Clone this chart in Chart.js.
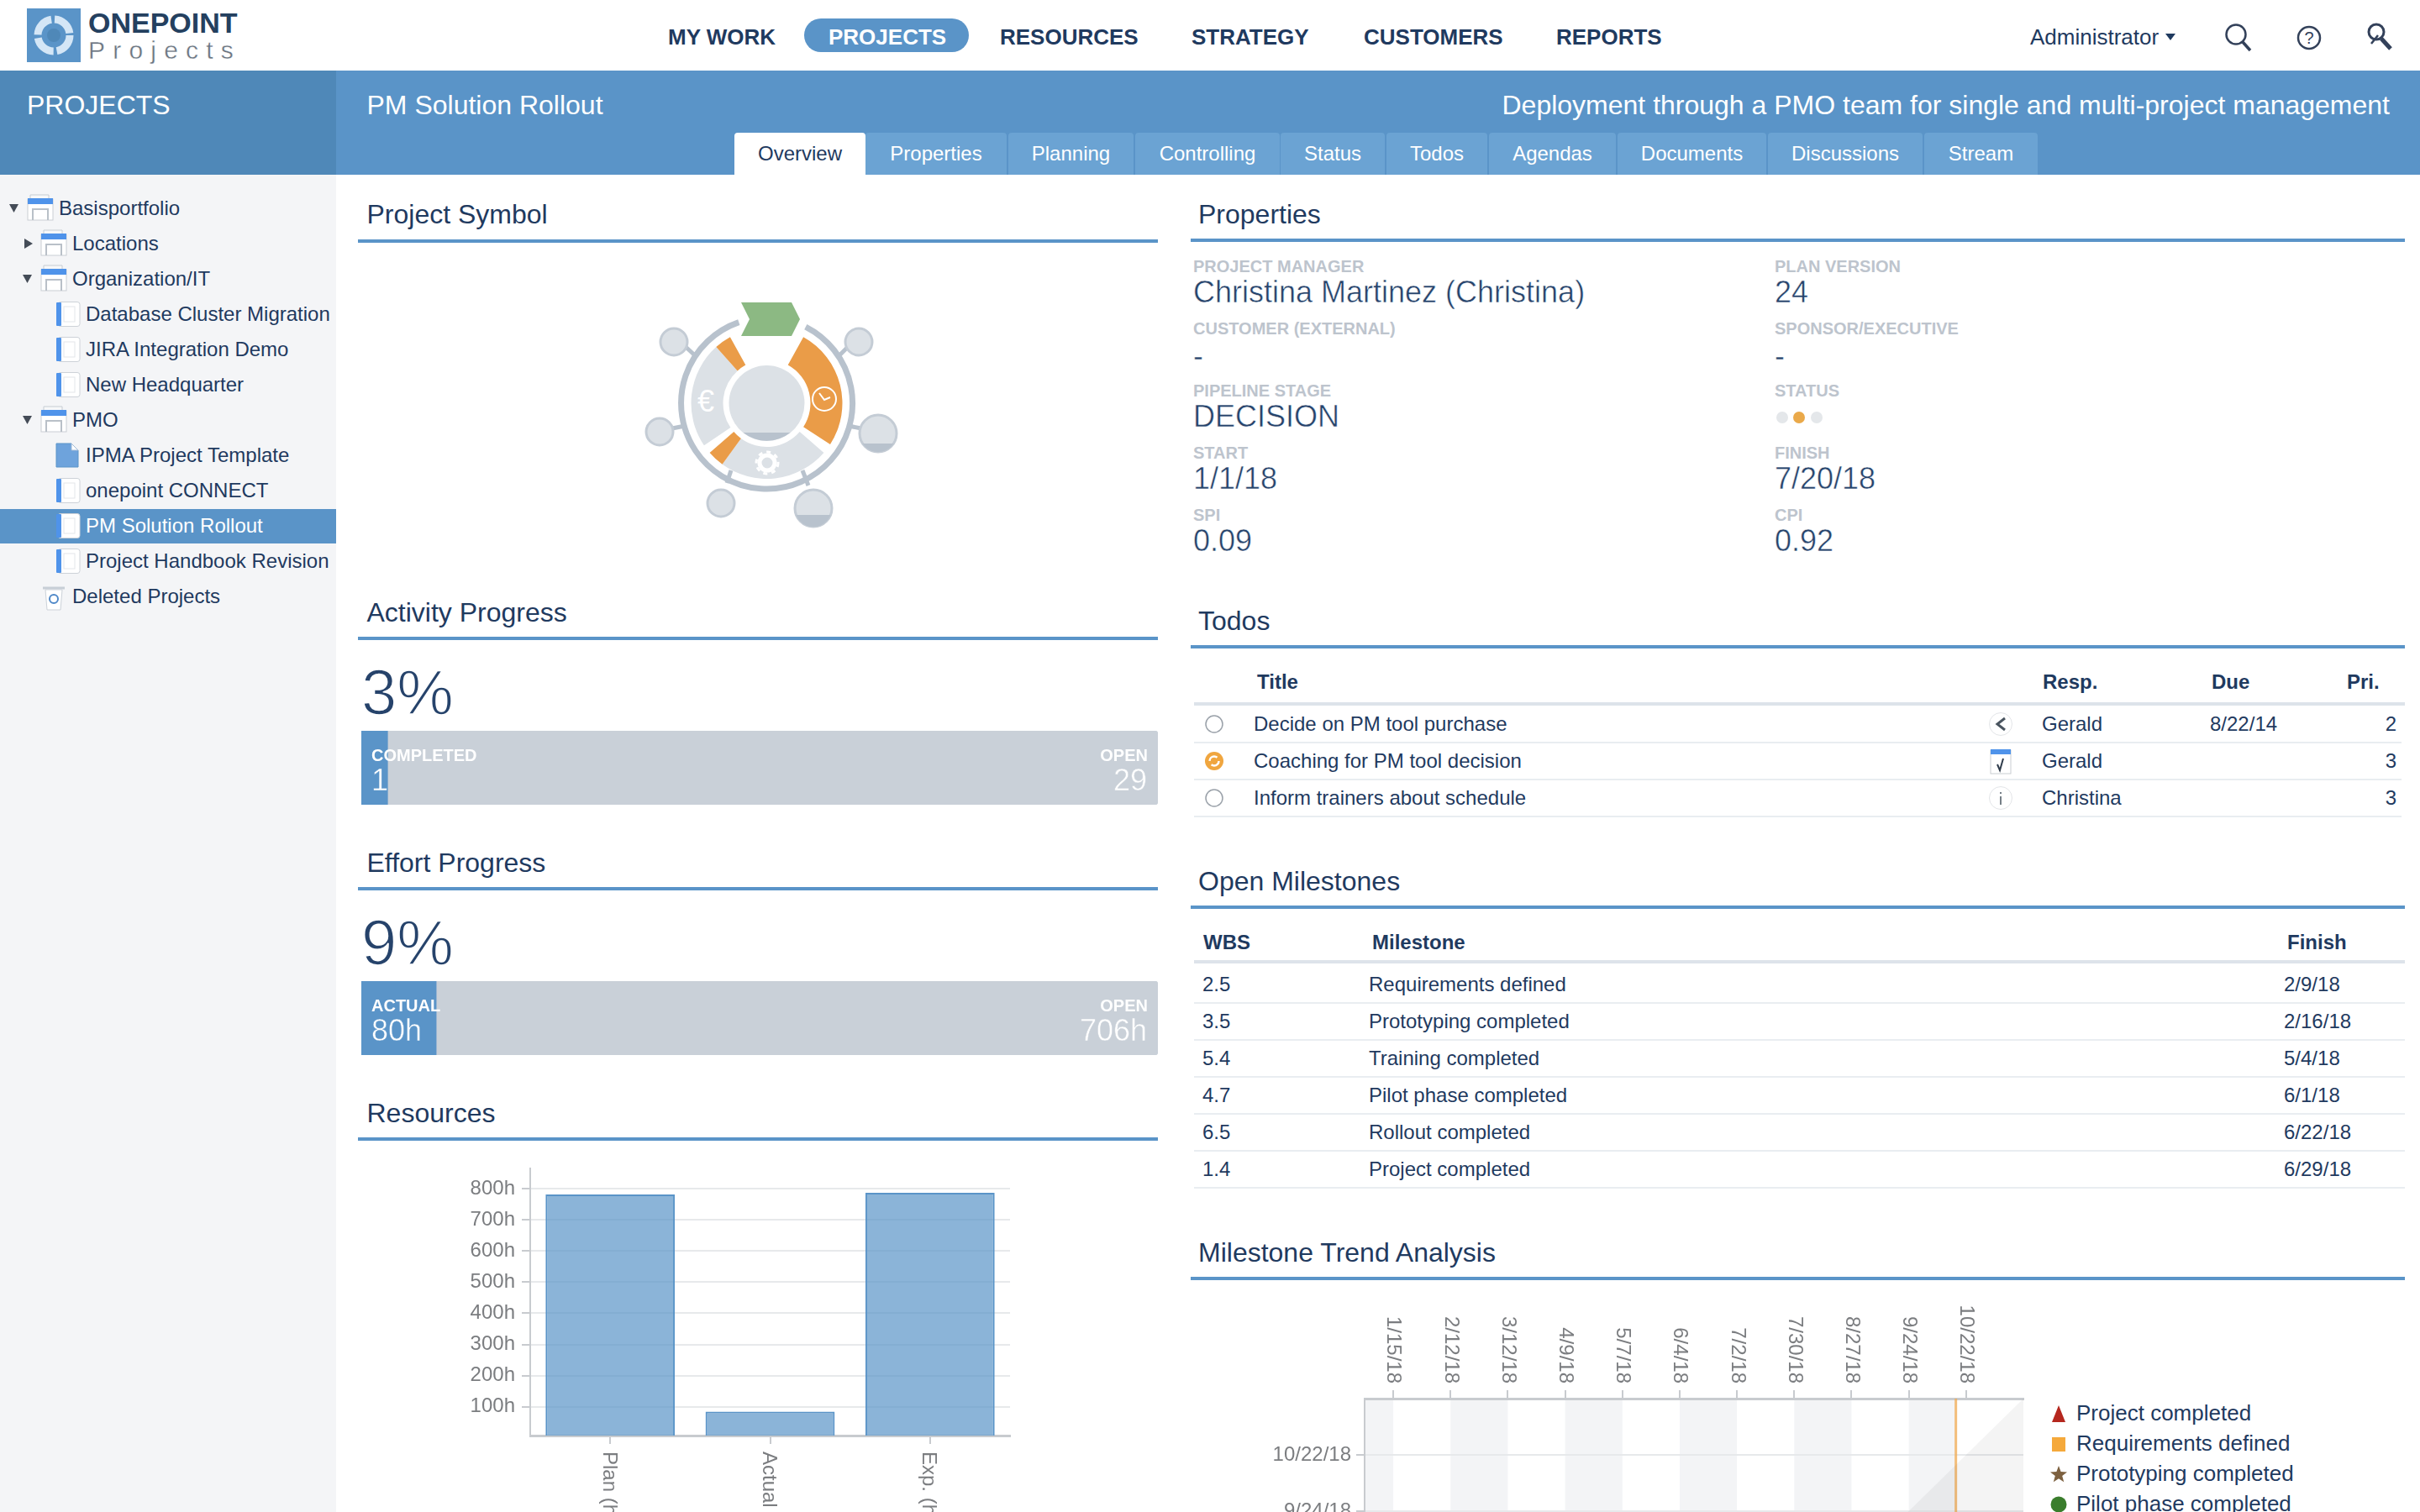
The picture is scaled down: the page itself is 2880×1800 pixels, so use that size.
<!DOCTYPE html>
<html>
<head>
<meta charset="utf-8">
<title>PM Solution Rollout</title>
<script src="https://cdn.jsdelivr.net/npm/chart.js@4"></script>
<style>
html, body { margin: 0; padding: 0; overflow: hidden; background: #fff; }
#page { position: relative; width: 2880px; height: 1800px; overflow: hidden; font-family: "Liberation Sans", Arial, sans-serif; color: #1f3a5f; }
#page div, #page canvas, #page svg { position: absolute; }
.t { white-space: nowrap; transform: translateY(-50%); line-height: 1.2; }
.title { font-size: 32px; }
.lbl { font-size: 20px; font-weight: bold; color: #bdc4cd; }
.val { font-size: 36px; color: #26436b; -webkit-text-stroke: 0.5px #fff; }
.big { font-size: 76px; color: #26436b; -webkit-text-stroke: 1.6px #fff; }
.cell { font-size: 24px; }
.head { font-size: 24px; font-weight: bold; }
.tab { border-radius: 4px 4px 0 0; background: #6ba3d3; color: #fff; font-size: 24px; text-align: center; top: 158px; height: 50px; line-height: 49px; }
</style>
</head>
<body>
<div id="page"></div>
<script>
/* chart data */
const resourceCats = ["Plan (h)", "Actual (h)", "Exp. (h)"];
const resourceHours = [781, 85, 786];
const resourceTicks = [100, 200, 300, 400, 500, 600, 700, 800];

const activityDone = [3.3];
const activityOpen = [96.7];
const effortDone = [9.4];
const effortOpen = [90.6];

const trendDates = ["1/15/18", "2/12/18", "3/12/18", "4/9/18", "5/7/18", "6/4/18", "7/2/18", "7/30/18", "8/27/18", "9/24/18", "10/22/18"];
const trendStart = "1/1/18";
const trendEnd = "11/19/18";
const trendNow = "10/17/18";
const bandFrom = ["1/1/18", "2/12/18", "4/9/18", "6/4/18", "7/30/18", "9/24/18"];
const bandTo = ["1/15/18", "3/12/18", "5/7/18", "7/2/18", "8/27/18", "10/17/18"];
const legendNames = ["Project completed", "Requirements defined", "Prototyping completed", "Pilot phase completed"];
const legendColors = ["#b5271e", "#f5a93b", "#7d6140", "#3a7d2c"];

/* page text */
const navItems = [["MY WORK", 795], ["RESOURCES", 1190], ["STRATEGY", 1418], ["CUSTOMERS", 1623], ["REPORTS", 1852]];
const tabNames = ["Properties", "Planning", "Controlling", "Status", "Todos", "Agendas", "Documents", "Discussions", "Stream"];
const tabEdges = [[1030, 1198], [1200, 1349], [1351, 1523], [1524, 1648], [1650, 1770], [1772, 1923], [1925, 2102], [2104, 2288], [2290, 2425]];
const treeRows = [
  ["Basisportfolio", 0, "folder", "open"], ["Locations", 1, "folder", "closed"], ["Organization/IT", 1, "folder", "open"],
  ["Database Cluster Migration", 2, "doc"], ["JIRA Integration Demo", 2, "doc"], ["New Headquarter", 2, "doc"],
  ["PMO", 1, "folder", "open"], ["IPMA Project Template", 2, "tpl"], ["onepoint CONNECT", 2, "doc"],
  ["PM Solution Rollout", 2, "doc"], ["Project Handbook Revision", 2, "doc"], ["Deleted Projects", 1, "trash"]
];
const props = [
  ["PROJECT MANAGER", "Christina Martinez (Christina)", 1420, 317, 348], ["PLAN VERSION", "24", 2112, 317, 348],
  ["CUSTOMER (EXTERNAL)", "-", 1420, 391, 424], ["SPONSOR/EXECUTIVE", "-", 2112, 391, 424],
  ["PIPELINE STAGE", "DECISION", 1420, 465, 496], ["STATUS", "", 2112, 465, 496],
  ["START", "1/1/18", 1420, 539, 570], ["FINISH", "7/20/18", 2112, 539, 570],
  ["SPI", "0.09", 1420, 613, 644], ["CPI", "0.92", 2112, 613, 644]
];
const todoRows = [
  ["Decide on PM tool purchase", "Gerald", "8/22/14", "2"],
  ["Coaching for PM tool decision", "Gerald", "", "3"],
  ["Inform trainers about schedule", "Christina", "", "3"]
];
const milestoneRows = [
  ["2.5", "Requirements defined", "2/9/18"], ["3.5", "Prototyping completed", "2/16/18"],
  ["5.4", "Training completed", "5/4/18"], ["4.7", "Pilot phase completed", "6/1/18"],
  ["6.5", "Rollout completed", "6/22/18"], ["1.4", "Project completed", "6/29/18"]
];

const page = document.getElementById("page");

function put(x, y, text, cls, style) {
  const d = document.createElement("div");
  d.className = "t " + (cls || "");
  d.textContent = text;
  d.style.left = x + "px";
  d.style.top = y + "px";
  if (style) d.style.cssText += style;
  page.appendChild(d);
  return d;
}
// same as put but the x is the right edge of the text
function putR(x, y, text, cls, style) {
  return put(0, y, text, cls, "left:auto;right:" + (2880 - x) + "px;" + (style || ""));
}
function box(x, y, w, h, color, extra) {
  const d = document.createElement("div");
  d.style.cssText = `left:${x}px;top:${y}px;width:${w}px;height:${h}px;background:${color};` + (extra || "");
  page.appendChild(d);
  return d;
}
function svg(x, y, w, h, inner) {
  const s = document.createElementNS("http://www.w3.org/2000/svg", "svg");
  s.setAttribute("width", w);
  s.setAttribute("height", h);
  s.setAttribute("viewBox", `0 0 ${w} ${h}`);
  s.style.left = x + "px";
  s.style.top = y + "px";
  s.innerHTML = inner;
  page.appendChild(s);
  return s;
}

/* header */
box(0, 84, 2880, 124, "#5a94c8");
box(0, 84, 400, 124, "#4f88b8");
box(0, 208, 400, 1592, "#f4f5f7");
box(32, 10, 64, 64, "#5a94c8");
svg(32, 10, 64, 64, `<circle cx="32" cy="32" r="19" fill="none" stroke="#d4e6f6" stroke-width="9" stroke-dasharray="26 4"/><circle cx="32" cy="32" r="8" fill="#4f88b8"/>`);
put(105, 27, "ONEPOINT", "", "font-size:34px;font-weight:bold;color:#24405f;");
put(105, 60, "Projects", "", "font-size:30px;color:#6a7480;letter-spacing:9.2px;-webkit-text-stroke:0.4px #fff;");

box(957, 22, 196, 40, "#5a94c8", "border-radius:20px;");
put(986, 44.5, "PROJECTS", "", "font-size:26px;font-weight:bold;color:#fff;");
navItems.forEach(n => put(n[1], 44.5, n[0], "", "font-size:26px;font-weight:bold;"));
put(2416, 44.5, "Administrator", "", "font-size:26px;");
svg(2576, 39, 14, 10, `<path d="M1 1h12L7 9z" fill="#1f3a5f"/>`);
svg(2646, 26, 36, 38, `<circle cx="15" cy="15" r="11.5" fill="none" stroke="#33415a" stroke-width="2.5"/><path d="M23 24l9 10" stroke="#33415a" stroke-width="3.5"/>`);
svg(2731, 28, 36, 34, `<circle cx="17" cy="17" r="13" fill="none" stroke="#33415a" stroke-width="2.5"/><text x="17" y="24" font-size="20" text-anchor="middle" fill="#33415a" font-family="Liberation Sans">?</text>`);
svg(2814, 26, 36, 38, `<circle cx="14" cy="12" r="9" fill="none" stroke="#33415a" stroke-width="3"/><path d="M20 20l11 12" stroke="#33415a" stroke-width="5"/><path d="M8 26l8-10" stroke="#33415a" stroke-width="2.5"/>`);

put(32, 124.5, "PROJECTS", "", "font-size:32px;color:#fff;");
put(436.5, 124.5, "PM Solution Rollout", "", "font-size:32px;color:#fff;");
putR(2844, 124.5, "Deployment through a PMO team for single and multi-project management", "", "font-size:32px;color:#fff;");

const overview = box(874, 158, 156, 50, "#fff", "border-radius:4px 4px 0 0;font-size:24px;text-align:center;line-height:49px;");
overview.textContent = "Overview";
tabNames.forEach((n, i) => {
  const d = box(tabEdges[i][0], 158, tabEdges[i][1] - tabEdges[i][0], 50, "#6ba3d3", "");
  d.className = "tab";
  d.textContent = n;
});

/* tree */
const indentText = [70, 86, 102];
function folderIcon(x, y) {
  svg(x, y - 16, 32, 32, `<path d="M4 1h22v6H4z" fill="#f7f8f9" stroke="#c6ccd3"/><rect x="1" y="6" width="30" height="25" fill="#fff" stroke="#c9ced4"/><rect x="1" y="5" width="30" height="7" fill="#4f93ea"/><path d="M7 31V18h18v13" fill="none" stroke="#b9c0c8" stroke-width="2"/>`);
}
function docIcon(x, y) {
  svg(x, y - 15, 30, 30, `<rect x="3" y="0.5" width="26" height="29" rx="3" fill="#fff" stroke="#cdd2d8"/><rect x="1" y="1" width="6" height="28" rx="1" fill="#4f93ea"/><rect x="10" y="6" width="13" height="18" fill="none" stroke="#e3e6ea"/>`);
}
treeRows.forEach((r, i) => {
  const y = 247.6 + i * 42;
  const selected = r[0] === "PM Solution Rollout";
  if (selected) box(0, 606, 400, 41, "#5a94c8");
  const x = indentText[r[1]];
  if (r[2] === "folder") folderIcon(x - 38, y - 1);
  if (r[2] === "doc") docIcon(x - 36, y);
  if (r[2] === "tpl") svg(x - 36, y - 15, 28, 30, `<path d="M1 1h18l8 8v20H1z" fill="#6ea3dc" stroke="#5a94c8"/><path d="M19 1v8h8z" fill="#fff" stroke="#9fb9d6"/>`);
  if (r[2] === "trash") svg(x - 36, y - 16, 28, 34, `<path d="M1 6h26" stroke="#c7ced6" stroke-width="3"/><path d="M4 8l2 24h16l2-24z" fill="#fff" stroke="#ccd2d9"/><circle cx="14" cy="19" r="5" fill="#fff" stroke="#4f88c8" stroke-width="2"/>`);
  if (r[3] === "open") svg(x - 60, y - 6, 14, 12, `<path d="M1 1h11L6.5 11z" fill="#444c57"/>`);
  if (r[3] === "closed") svg(x - 58, y - 7, 12, 14, `<path d="M1 1l10 6-10 6z" fill="#444c57"/>`);
  put(x, y, r[0], "", "font-size:24px;" + (selected ? "color:#fff;" : ""));
});

/* section titles */
[["Project Symbol", 436.5, 255, 426, 285, 952], ["Activity Progress", 436.5, 728.5, 426, 758, 952], ["Effort Progress", 436.5, 1027, 426, 1056, 952], ["Resources", 436.5, 1325, 426, 1354, 952],
 ["Properties", 1426, 255, 1417, 284, 1445], ["Todos", 1426, 739, 1417, 768, 1445], ["Open Milestones", 1426, 1049, 1417, 1078, 1445], ["Milestone Trend Analysis", 1426, 1491, 1417, 1520, 1445]
].forEach(s => {
  put(s[1], s[2], s[0], "title");
  box(s[3], s[4], s[5], 4, "#5a94c8");
});

/* project symbol, drawn as an icon */
const cx = 232.5, cy = 160;
function pol(r, a) {
  const t = (a - 90) * Math.PI / 180;
  return (cx + r * Math.cos(t)).toFixed(1) + " " + (cy + r * Math.sin(t)).toFixed(1);
}
function sector(r0, r1, a0, a1, fill) {
  const big = a1 - a0 > 180 ? 1 : 0;
  return `<path d="M${pol(r1, a0)}A${r1} ${r1} 0 ${big} 1 ${pol(r1, a1)}L${pol(r0, a1)}A${r0} ${r0} 0 ${big} 0 ${pol(r0, a0)}Z" fill="${fill}"/>`;
}
function satellite(x, y, r, h) {
  let s = `<circle cx="${x}" cy="${y}" r="${r}" fill="#dce1e6" stroke="#c4ccd5" stroke-width="3"/>`;
  if (h) {
    const w = Math.sqrt(r * r - h * h).toFixed(1);
    s += `<path d="M${x - w} ${y + h}A${r} ${r} 0 0 0 ${x + +w} ${y + h}Z" fill="#b8c2cd"/>`;
  }
  return s;
}
const stalk = (x1, y1, x2, y2) => `<path d="M${x1} ${y1}L${x2} ${y2}" stroke="#b8c2cd" stroke-width="5"/>`;
svg(680, 320, 460, 340,
  stalk(135, 92, 148, 104) + stalk(330, 92, 318, 104) + stalk(120, 190, 135, 187) + stalk(345, 190, 330, 187) + stalk(185, 255, 190, 240) + stalk(282, 258, 275, 240) +
  `<path d="M${pol(102, 27)}A102 102 0 1 1 ${pol(102, 341)}" fill="none" stroke="#b8c2cd" stroke-width="7"/>` +
  sector(52, 90, 29, 123, "#ea9c48") + sector(52, 90, 131, 216, "#dce1e6") + sector(52, 90, 216, 229, "#ea9c48") +
  sector(52, 90, 236, 318, "#dce1e6") + sector(52, 90, 318, 331, "#ea9c48") +
  `<circle cx="${cx}" cy="${cy}" r="45" fill="#dce1e6"/><path d="M${cx - 28} ${cy + 35}A45 45 0 0 0 ${cx + 28} ${cy + 35}Z" fill="#b8c2cd"/>` +
  `<path d="M202 40h60l10 20-10 20h-60l10-20z" fill="#8cb983"/>` +
  satellite(122, 87, 16) + satellite(342, 87, 16) + satellite(105, 194, 16) + satellite(365, 196, 22, 12) + satellite(178, 279, 16) + satellite(288, 285, 22, 8) +
  `<text x="160" y="170" font-size="36" fill="#fff" text-anchor="middle" font-family="Liberation Sans">€</text>` +
  `<circle cx="301" cy="155" r="14" fill="none" stroke="#fff" stroke-width="2"/><path d="M295 148l6 8 7-3" fill="none" stroke="#fff" stroke-width="2"/>` +
  `<circle cx="233" cy="231" r="9" fill="none" stroke="#fff" stroke-width="5"/><circle cx="233" cy="231" r="13" fill="none" stroke="#fff" stroke-width="3" stroke-dasharray="5 5"/>`
);

/* progress */
put(430, 824, "3%", "big");
put(430, 1122, "9%", "big");

/* properties */
props.forEach(p => {
  put(p[2], p[3], p[0], "lbl");
  if (p[1]) put(p[2], p[4], p[1], "val");
});
[[2121, "#e4e7ea"], [2141, "#eaa94a"], [2162, "#e4e7ea"]].forEach(d => box(d[0] - 7, 490, 14, 14, d[1], "border-radius:50%;"));

/* todos */
put(1496, 812, "Title", "head");
put(2431, 812, "Resp.", "head");
put(2632, 812, "Due", "head");
put(2793, 812, "Pri.", "head");
box(1421, 836, 1441, 4, "#dde3ea");
todoRows.forEach((r, i) => {
  const y = 862 + i * 44;
  put(1492, y, r[0], "cell");
  put(2430, y, r[1], "cell");
  put(2630, y, r[2], "cell");
  putR(2852, y, r[3], "cell");
  box(1421, y + 21, 1437, 2, "#e9edf1");
});
svg(1433, 850, 24, 24, `<circle cx="12" cy="12" r="10" fill="#fff" stroke="#9aa1a9" stroke-width="1.5"/>`);
svg(1433, 894, 24, 24, `<circle cx="12" cy="12" r="11" fill="#f0a63f"/><circle cx="12" cy="12" r="5.5" fill="none" stroke="#fff" stroke-width="2.5" stroke-dasharray="12 5"/>`);
svg(1433, 938, 24, 24, `<circle cx="12" cy="12" r="10" fill="#fff" stroke="#9aa1a9" stroke-width="1.5"/>`);
svg(2366, 847, 30, 30, `<circle cx="15" cy="15" r="13.5" fill="#fff" stroke="#e3e5e8"/><path d="M20 8l-9 7 9 7" fill="none" stroke="#4a5560" stroke-width="3"/>`);
svg(2368, 892, 26, 30, `<rect x="1" y="1" width="24" height="28" fill="#fff" stroke="#c9cdd2"/><rect x="1" y="0" width="24" height="6" fill="#4f93ea"/><path d="M9 18l3 7 4-14" fill="none" stroke="#2f3c4b" stroke-width="2"/>`);
svg(2366, 935, 30, 30, `<circle cx="15" cy="15" r="13.5" fill="#fff" stroke="#e3e5e8"/><path d="M15 13v10M15 8v2" stroke="#4a5560" stroke-width="1.5"/>`);

/* milestones */
put(1432, 1121.5, "WBS", "head");
put(1633, 1121.5, "Milestone", "head");
put(2722, 1121.5, "Finish", "head");
box(1421, 1143, 1441, 4, "#dde3ea");
milestoneRows.forEach((r, i) => {
  const y = 1171.5 + i * 44;
  put(1431, y, r[0], "cell");
  put(1629, y, r[1], "cell");
  put(2718, y, r[2], "cell");
  box(1421, y + 21, 1441, 2, "#e9edf1");
});

/* charts */
Chart.defaults.font.family = '"Liberation Sans", Arial, sans-serif';
Chart.defaults.animation = false;

const tickGray = "#7b7d80";
const lineGray = "#c8cbcf";
const gridGray = "#e7e9eb";

function addCanvas(x, y, w, h) {
  const c = document.createElement("canvas");
  c.width = w;
  c.height = h;
  c.style.left = x + "px";
  c.style.top = y + "px";
  page.appendChild(c);
  return c;
}

// Chart.js only rotates tick labels counter clockwise, these read top to bottom
const clockwiseTicks = {
  id: "clockwiseTicks",
  afterDraw(chart) {
    const s = chart.scales.x, ctx = chart.ctx;
    const onTop = s.position === "top";
    ctx.save();
    ctx.font = '24px "Liberation Sans"';
    ctx.fillStyle = tickGray;
    s.ticks.forEach((t, i) => {
      ctx.save();
      ctx.translate(s.getPixelForTick(i) - (onTop ? 0 : 2), onTop ? s.bottom - 18 : s.top + 19);
      ctx.rotate(Math.PI / 2);
      ctx.textAlign = onTop ? "right" : "left";
      ctx.textBaseline = "middle";
      ctx.fillText(t.label, 0, 0);
      ctx.restore();
    });
    ctx.restore();
  }
};

function progressBar(x, y, done, open) {
  return new Chart(addCanvas(x, y, 948, 88), {
    type: "bar",
    data: {
      labels: [""],
      datasets: [
        { data: done, backgroundColor: "#5a94c8", barPercentage: 1, categoryPercentage: 1 },
        { data: open, backgroundColor: "#c9d0d8", barPercentage: 1, categoryPercentage: 1, borderRadius: { topRight: 4, bottomRight: 4 } }
      ]
    },
    options: {
      indexAxis: "y",
      responsive: false,
      plugins: { legend: { display: false }, tooltip: { enabled: false } },
      scales: {
        x: { display: false, stacked: true, min: 0, max: 100 },
        y: { display: false, stacked: true }
      }
    }
  });
}
progressBar(430, 870, activityDone, activityOpen);
progressBar(430, 1168, effortDone, effortOpen);

const overBlue = "color:#fff;-webkit-text-stroke:0.5px #5a94c8;";
const overGray = "color:#fff;-webkit-text-stroke:0.5px #c9d0d8;";
put(442, 899, "COMPLETED", "lbl", "color:#fff;");
put(442, 929, "1", "val", overBlue);
putR(1366, 899, "OPEN", "lbl", "color:#fff;");
putR(1365, 929, "29", "val", overGray);
put(442, 1197, "ACTUAL", "lbl", "color:#fff;");
put(442, 1227, "80h", "val", overBlue);
putR(1366, 1197, "OPEN", "lbl", "color:#fff;");
putR(1365, 1227, "706h", "val", overGray);

new Chart(addCanvas(420, 1390, 786, 439), {
  type: "bar",
  data: {
    labels: resourceCats,
    datasets: [{
      data: resourceHours,
      backgroundColor: "rgba(90,148,200,0.7)",
      borderColor: "#5a94c8",
      borderWidth: 2,
      categoryPercentage: 0.808,
      barPercentage: 1
    }]
  },
  options: {
    responsive: false,
    layout: { padding: { right: 4 } },
    plugins: { legend: { display: false }, tooltip: { enabled: false } },
    scales: {
      x: {
        ticks: { display: false, autoSkip: false },
        grid: { drawOnChartArea: false, offset: false, tickLength: 10, color: lineGray, lineWidth: 2 },
        border: { color: lineGray, width: 3 },
        afterFit: s => { s.height = 120; }
      },
      y: {
        min: 8,
        max: 867,
        afterBuildTicks: s => { s.ticks = resourceTicks.map(v => ({ value: v })); },
        ticks: { color: tickGray, font: { size: 24 }, padding: 8, callback: v => v + "h" },
        grid: { color: gridGray, lineWidth: 2, tickLength: 10, tickColor: lineGray },
        border: { color: lineGray, width: 2 },
        afterFit: s => { s.width = 211; s.paddingTop = 0; s.paddingBottom = 0; }
      }
    }
  },
  plugins: [clockwiseTicks]
});

/* milestone trend */
const toDay = s => {
  const p = s.split("/");
  return Date.UTC(2000 + +p[2], +p[0] - 1, +p[1]) / 86400000;
};
const dayLabel = d => {
  const x = new Date(d * 86400000);
  return (x.getUTCMonth() + 1) + "/" + x.getUTCDate() + "/" + (x.getUTCFullYear() - 2000);
};
const dayTicks = () => trendDates.map(d => ({ value: toDay(d) }));

const bands = {
  id: "bands",
  beforeDraw(chart) {
    const s = chart.scales.x, a = chart.chartArea, ctx = chart.ctx;
    ctx.save();
    ctx.fillStyle = "#f3f4f6";
    bandFrom.forEach((d, i) => {
      const x0 = s.getPixelForValue(toDay(d));
      const x1 = s.getPixelForValue(toDay(bandTo[i]));
      ctx.fillRect(x0, a.top, x1 - x0, a.bottom - a.top);
    });
    ctx.restore();
  }
};

const dayMin = toDay(trendStart), dayMax = toDay(trendEnd), dayNow = toDay(trendNow);

new Chart(addCanvas(1400, 1545, 1012, 895), {
  type: "line",
  data: {
    datasets: [
      {
        data: [{ x: dayMin, y: dayMin }, { x: dayMax, y: dayMax }],
        fill: "start",
        backgroundColor: "rgba(60,66,72,0.06)",
        borderWidth: 0,
        pointRadius: 0
      },
      {
        data: [{ x: dayNow, y: dayMin }, { x: dayNow, y: dayMax }],
        borderColor: "rgba(240,170,80,0.75)",
        borderWidth: 3,
        pointRadius: 0
      }
    ]
  },
  options: {
    responsive: false,
    layout: { padding: { right: 4, bottom: 5 } },
    plugins: { legend: { display: false }, tooltip: { enabled: false } },
    scales: {
      x: {
        type: "linear",
        position: "top",
        min: dayMin,
        max: dayMax,
        afterBuildTicks: s => { s.ticks = dayTicks(); },
        ticks: { display: false, callback: dayLabel },
        grid: { drawOnChartArea: false, tickLength: 10, color: lineGray, lineWidth: 2 },
        border: { color: lineGray, width: 3 },
        afterFit: s => { s.height = 120; }
      },
      y: {
        type: "linear",
        min: dayMin,
        max: dayMax,
        afterBuildTicks: s => { s.ticks = dayTicks(); },
        ticks: { color: tickGray, font: { size: 24 }, padding: 6, callback: dayLabel },
        grid: { color: gridGray, lineWidth: 2, tickLength: 10, tickColor: lineGray },
        border: { color: lineGray, width: 2 },
        afterFit: s => { s.width = 224; s.paddingTop = 0; s.paddingBottom = 0; }
      }
    }
  },
  plugins: [bands, clockwiseTicks]
});

/* legend of the trend chart */
const legendMarks = [
  c => `<path d="M10 0l8 20H2z" fill="${c}"/>`,
  c => `<rect x="2" y="2" width="16" height="17" fill="${c}"/>`,
  c => `<path d="M10 0l2.6 7 7.4.4-5.8 4.6 2 7.2L10 15.2 3.8 19.2l2-7.2L0 7.4 7.4 7z" fill="${c}"/>`,
  c => `<circle cx="10" cy="10" r="9.5" fill="${c}"/>`
];
legendNames.forEach((n, i) => {
  const y = 1683 + i * 36;
  svg(2440, y - 10, 20, 20, legendMarks[i](legendColors[i]));
  put(2471, y, n, "", "font-size:26px;");
});
</script>
</body>
</html>
